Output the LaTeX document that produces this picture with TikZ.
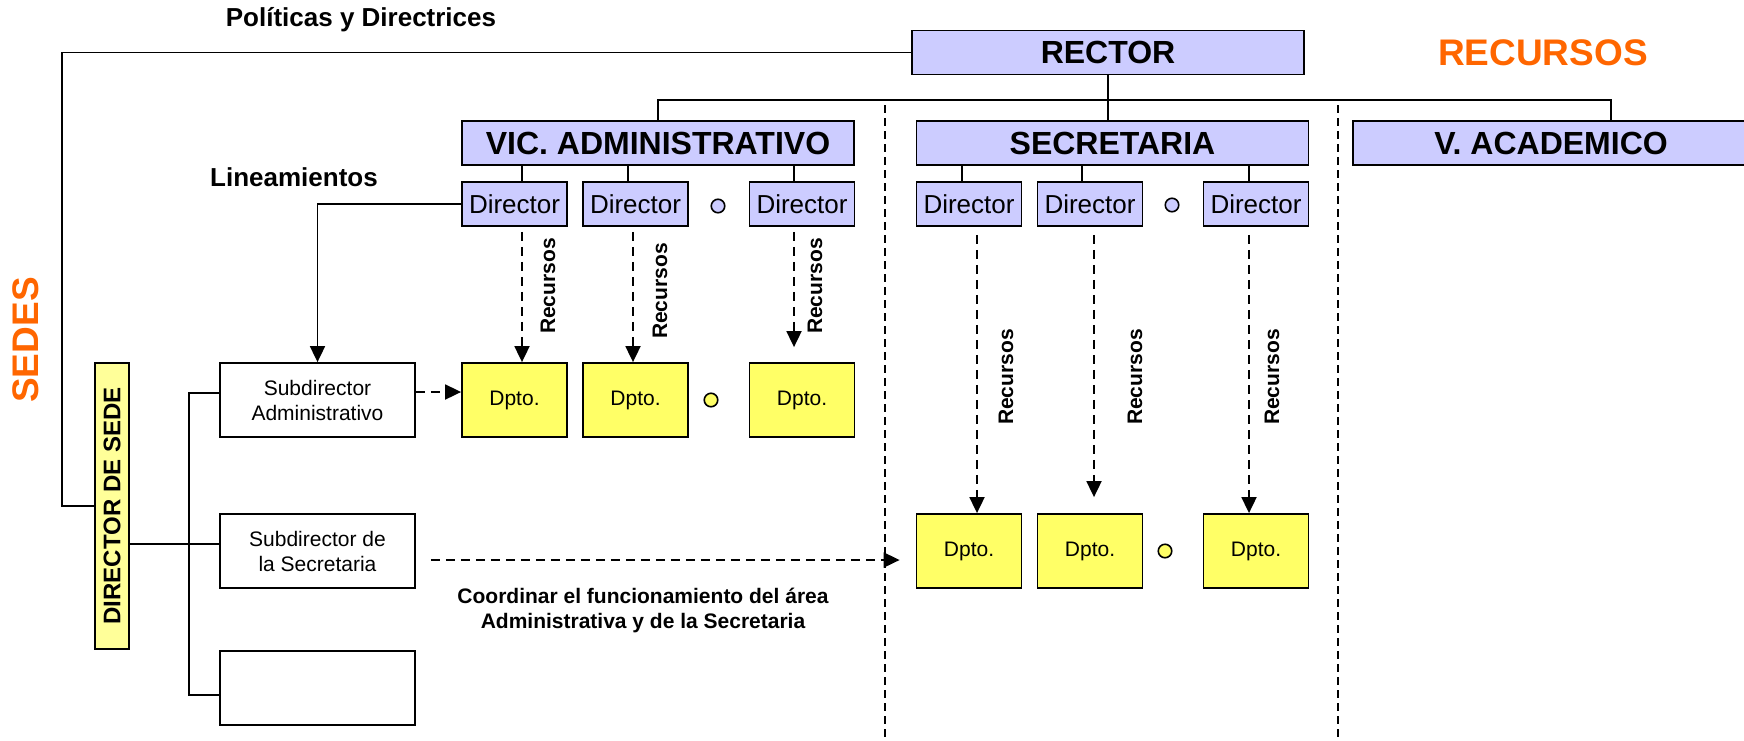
\documentclass[tikz,border=0pt]{standalone}
\usepackage{fontspec}
\usepackage{graphicx}
\setmainfont{Liberation Sans}
\usetikzlibrary{arrows.meta}
\definecolor{lila}{RGB}{204,204,255}
\definecolor{amarillo}{RGB}{255,255,102}
\definecolor{amarilloclaro}{RGB}{255,255,153}
\definecolor{naranja}{RGB}{255,102,0}

\begin{document}
\begin{tikzpicture}[x=1pt, y=-1pt, line width=1.8pt,
  jefe/.style={draw, fill=lila, minimum width=392pt, minimum height=44pt, inner sep=0pt, font=\bfseries\fontsize{32}{38}\selectfont},
  director/.style={draw, fill=lila, minimum width=105pt, minimum height=44pt, inner sep=0pt, font=\fontsize{26}{30}\selectfont},
  dpto/.style={draw, fill=amarillo, minimum width=105pt, minimum height=74pt, inner sep=0pt, font=\fontsize{21}{25}\selectfont},
  subdir/.style={draw, fill=white, minimum width=195pt, minimum height=74pt, inner sep=0pt, align=center, font=\fontsize{21}{25}\selectfont},
  punto/.style={circle, draw, line width=1.6pt, minimum size=13.5pt, inner sep=0pt},
  rotulo/.style={font=\bfseries\fontsize{26}{30}\selectfont},
  titulo/.style={text=naranja, font=\bfseries\fontsize{37}{44}\selectfont},
  recursos/.style={rotate=90, font=\bfseries\fontsize{21}{25}\selectfont},
  flujo/.style={dash pattern=on 9pt off 6pt, -{Triangle[length=16pt,width=15pt]}},
  separa/.style={line width=1.5pt, dash pattern=on 8pt off 5pt},
  rama/.style={line width=1.5pt}]
\useasboundingbox (0,0) rectangle (1744,740);

\node[jefe] (rector) at (1108,52.5) {RECTOR};
\node[jefe] (vic) at (658,143) {VIC. ADMINISTRATIVO};
\node[jefe] (secre) at (1112.5,143) {SECRETARIA};
\node[jefe, minimum width=396pt] (vacad) at (1551,143) {V. ACADEMICO};

\foreach \n/\x in {dA1/514.5, dA2/635.5, dA3/802, dS1/969, dS2/1090, dS3/1256}
  \node[director] (\n) at (\x,204) {Director};
\foreach \n/\x in {pA1/514.5, pA2/635.5, pA3/802}
  \node[dpto] (\n) at (\x,400) {Dpto.};
\foreach \n/\x in {pS1/969, pS2/1090, pS3/1256}
  \node[dpto] (\n) at (\x,551) {Dpto.};

\node[punto, fill=lila] (oA) at (718,206) {};
\node[punto, fill=lila] (oS) at (1172,205) {};
\node[punto, fill=amarillo] (oPA) at (711,400) {};
\node[punto, fill=amarillo] (oPS) at (1165,551) {};

\node[draw, fill=amarilloclaro, minimum width=34pt, minimum height=286pt, inner sep=0pt,
  font=\bfseries\fontsize{24}{28}\selectfont] (sede) at (112,506) {\rotatebox{90}{DIRECTOR DE SEDE}};
\node[subdir] (subA) at (317.5,400) {Subdirector\\Administrativo};
\node[subdir] (subS) at (317.5,551) {Subdirector de\\la Secretaria};
\node[subdir] (subV) at (317.5,688) {};

\node[rotulo] (politicas) at (361,20) {Políticas y Directrices};
\node[rotulo] (lineam) at (294,177) {Lineamientos};
\node[titulo] (recursosT) at (1543,53) {RECURSOS};
\node[titulo, rotate=90] (sedes) at (26,340) {SEDES};
\node[align=center, font=\bfseries\fontsize{21}{25}\selectfont] (coord) at (643,610)
  {Coordinar el funcionamiento del área\\Administrativa y de la Secretaria};

\foreach \n/\x/\y in {rA1/548/286, rA2/660/291, rA3/815/286, rS1/1006/377, rS2/1135/377, rS3/1272/377}
  \node[recursos] (\n) at (\x,\y) {Recursos};

\coordinate (esq) at (62,52.5);
\draw (rector.west) -- (esq) |- (sede.west);
\coordinate (bus) at (1611,100);
\draw (vic.north) |- (bus) -- (bus |- vacad.north);
\draw (rector.south) -- (rector.south |- secre.north);

\foreach \n/\dx in {dA1/7.5, dA2/-7.5, dA3/-8}
  \draw[rama] ([xshift=\dx pt]\n.north) -- ([xshift=\dx pt]\n.north |- vic.south);
\foreach \n/\dx in {dS1/-7, dS2/-8, dS3/-7}
  \draw[rama] ([xshift=\dx pt]\n.north) -- ([xshift=\dx pt]\n.north |- secre.south);

\draw[flujo] ([xshift=7.5pt,yshift=-5pt]dA1.south) -- ([xshift=7.5pt]pA1.north);
\draw[flujo] ([xshift=-2.5pt,yshift=-5pt]dA2.south) -- ([xshift=-2.5pt]pA2.north);
\draw[flujo] ([xshift=-8pt,yshift=-5pt]dA3.south) -- ([xshift=-8pt,yshift=15pt]pA3.north);
\draw[flujo] ([xshift=8pt,yshift=-8pt]dS1.south) -- ([xshift=8pt]pS1.north);
\draw[flujo] ([xshift=4pt,yshift=-8pt]dS2.south) -- ([xshift=4pt,yshift=16pt]pS2.north);
\draw[flujo] ([xshift=-7pt,yshift=-8pt]dS3.south) -- ([xshift=-7pt]pS3.north);

\draw[-{Triangle[length=16pt,width=15pt]}] (dA1.west) -| (subA.north);
\draw[flujo] ([yshift=8pt]subA.east) -- ([yshift=8pt]pA1.west);
\draw[flujo] ([xshift=15pt,yshift=-9pt]subS.east) -- ([xshift=-16pt,yshift=-9pt]pS1.west);

\coordinate (tronco) at (189,544);
\draw (sede.east |- tronco) -- (tronco) -- (tronco -| subS.west);
\draw ([yshift=7pt]subA.west) -| (tronco) |- ([yshift=-7pt]subV.west);

\coordinate (sep1) at (885,105);
\coordinate (sep2) at (1338,105);
\draw[separa] (sep1) -- ++(0,635);
\draw[separa] (sep2) -- ++(0,635);
\end{tikzpicture}
\end{document}
